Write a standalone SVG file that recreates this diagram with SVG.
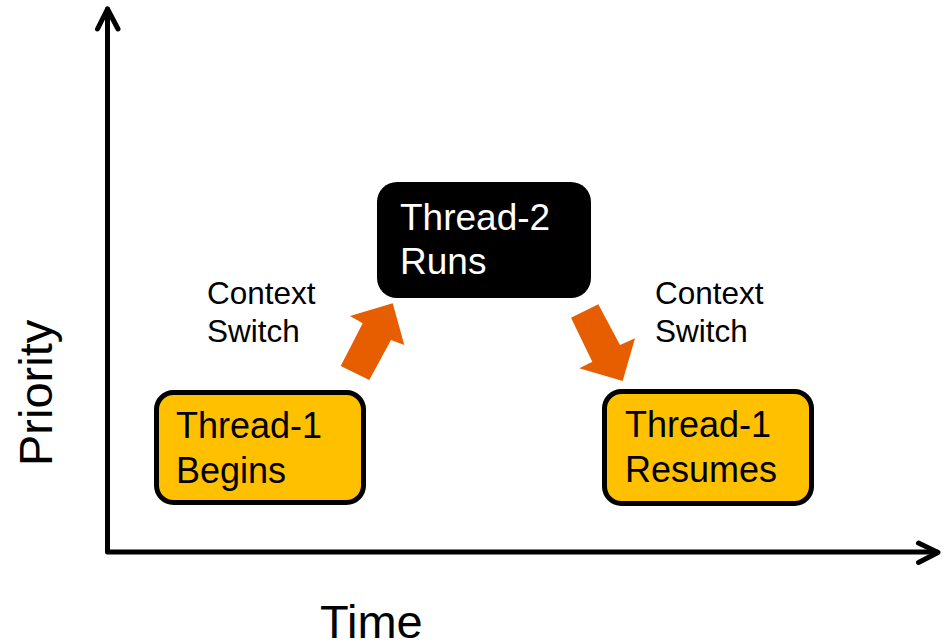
<svg xmlns="http://www.w3.org/2000/svg" width="944" height="644" viewBox="0 0 944 644">
  <style>
    text { font-family: "Liberation Sans", Arial, sans-serif; }
    .axis { fill: none; stroke: #000; stroke-width: 5; stroke-linecap: round; stroke-linejoin: round; }
    .task { fill: #FFC000; stroke: #000; stroke-width: 5; }
    .run { fill: #000; }
    .label { font-size: 36px; fill: #000; }
    .label-inv { font-size: 37px; fill: #fff; }
    .note { font-size: 31.5px; fill: #000; }
    .axis-title { font-size: 47px; fill: #000; }
    .switch { fill: #E65E00; }
  </style>

  <!-- axes -->
  <g id="axes">
    <path class="axis" d="M107.5,9 V552 H937"/>
    <path class="axis" d="M97.5,29 L107.5,9 L118,29"/>
    <path class="axis" d="M918.5,543 L938,552.5 L918.5,562.5"/>
    <text class="axis-title" transform="translate(52,466) rotate(-90)">Priority</text>
    <text class="axis-title" x="320" y="638">Time</text>
  </g>

  <!-- nodes -->
  <g id="thread1-begins">
    <rect class="task" x="156.5" y="392.5" width="207" height="110" rx="17"/>
    <text class="label" x="176" y="438">Thread-1</text>
    <text class="label" x="176" y="483">Begins</text>
  </g>

  <g id="thread2-runs">
    <rect class="run" x="377" y="182" width="214" height="116" rx="20"/>
    <text class="label-inv" x="400" y="230">Thread-2</text>
    <text class="label-inv" x="400" y="274">Runs</text>
  </g>

  <g id="thread1-resumes">
    <rect class="task" x="604.5" y="391.5" width="207" height="112" rx="17"/>
    <text class="label" x="625" y="437">Thread-1</text>
    <text class="label" x="625" y="482">Resumes</text>
  </g>

  <!-- connectors: context switch arrows -->
  <g id="connectors">
    <g id="switch-in">
      <polygon class="switch" points="392.7,303.3 404.3,345 391,340 369.3,380 340.7,366 362.7,323.3 350,316"/>
      <text class="note" x="207" y="304">Context</text>
      <text class="note" x="207" y="342">Switch</text>
    </g>
    <g id="switch-out">
      <polygon class="switch" points="571,317.7 598.3,304.3 620,345 635,338.3 622.7,381 579.3,368.3 592.3,361.7"/>
      <text class="note" x="655" y="304">Context</text>
      <text class="note" x="655" y="342">Switch</text>
    </g>
  </g>
</svg>
